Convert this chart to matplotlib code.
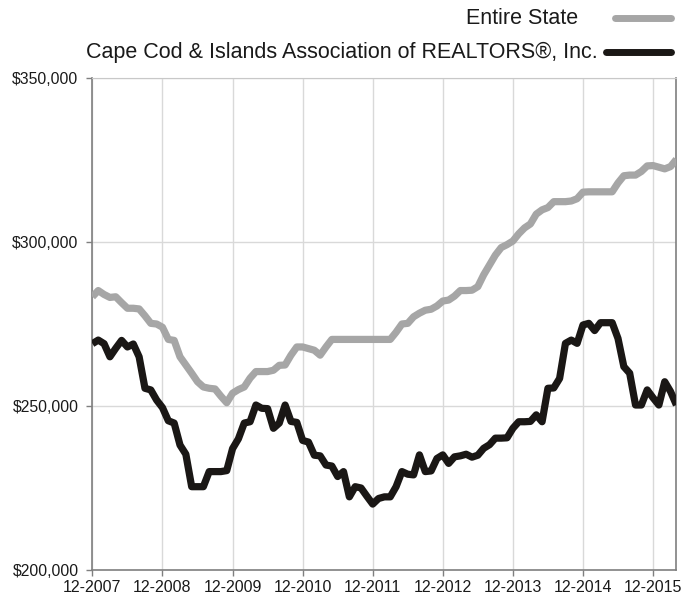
import matplotlib.pyplot as plt

plt.rcParams['font.family'] = ['Liberation Sans', 'DejaVu Sans']

# monthly median price (thousands), 12-2007 .. 4-2016
state_k = [283.3, 285.2, 284, 283.1, 283.3, 281.5, 279.8, 279.8, 279.6, 277.5,
           275.2, 275, 274, 270.3, 270, 265, 262.5, 260, 257.4, 255.8,
           255.4, 255.2, 253, 251, 253.9, 255, 255.8, 258.5, 260.5, 260.5,
           260.5, 260.9, 262.4, 262.5, 265.5, 268, 268, 267.5, 267, 265.5,
           268, 270.3, 270.3, 270.3, 270.3, 270.3, 270.3, 270.3, 270.3, 270.3,
           270.3, 270.3, 272.5, 275, 275.2, 277.2, 278.3, 279.2, 279.5, 280.5,
           282, 282.3, 283.5, 285.2, 285.2, 285.3, 286.4, 290, 293, 296,
           298.3, 299.2, 300.3, 302.5, 304.3, 305.5, 308.5, 309.8, 310.5, 312.3,
           312.3, 312.3, 312.5, 313.2, 315.2, 315.3, 315.3, 315.3, 315.3, 315.3,
           318, 320.2, 320.4, 320.4, 321.5, 323.2, 323.3, 322.8, 322.3, 323,
           325.2]
cape_k = [269, 270.1, 269, 265, 267.6, 270, 268, 268.9, 265, 255.4,
          254.9, 251.8, 249.5, 245.5, 244.8, 238.1, 235.3, 225.4, 225.4, 225.4,
          230, 230, 230, 230.3, 237, 240, 244.8, 245.2, 250.3, 249.3,
          249.2, 243.2, 244.8, 250.3, 245.3, 245, 239.5, 239, 235, 234.8,
          232, 231.7, 228.5, 230, 222.3, 225.4, 225, 222.5, 220.1, 221.8,
          222.3, 222.3, 225.4, 230, 229.2, 229, 235.1, 230, 230.2, 234,
          235.1, 232.5, 234.5, 234.8, 235.3, 234.4, 235, 237.1, 238.2, 240.2,
          240.2, 240.3, 243.2, 245.2, 245.2, 245.3, 247.3, 245.2, 255.4, 255.5,
          258.4, 269.1, 270.1, 269.1, 274.7, 275.2, 273, 275.4, 275.4, 275.4,
          270.6, 262, 260, 250.3, 250.3, 254.9, 252.5, 250.3, 257.4, 254.4,
          250.3]
tick_labels = ['12-2007', '12-2008', '12-2009', '12-2010', '12-2011',
               '12-2012', '12-2013', '12-2014', '12-2015']
y_ticks = [200000, 250000, 300000, 350000]
series_names = ['Entire State', 'Cape Cod & Islands Association of REALTORS®, Inc.']

GRAY = '#a6a6a6'
BLACK = '#1a1715'

months = list(range(len(state_k)))
state = [v * 1000 for v in state_k]
cape = [v * 1000 for v in cape_k]

fig = plt.figure(figsize=(6.96, 5.98), dpi=100)
ax = fig.add_axes([92.4 / 696, 1 - 570 / 598, (676.4 - 92.4) / 696, (570 - 78) / 598])

ax.plot(months, state, color=GRAY, lw=5.2, solid_joinstyle='round', solid_capstyle='butt', zorder=3)
ax.plot(months, cape, color=BLACK, lw=5.2, solid_joinstyle='round', solid_capstyle='butt', zorder=4)

ax.set_xlim(0, len(months) - 1)
ax.set_ylim(200000, 350000)
ax.set_xticks(range(0, 12 * len(tick_labels), 12))
ax.set_xticklabels(tick_labels)
ax.set_yticks(y_ticks)
ax.set_yticklabels(['${:,}'.format(v) for v in y_ticks])
ax.grid(True, color='#d9d9d9', lw=1)
ax.set_axisbelow(True)

for side in ['left', 'bottom', 'right']:
    ax.spines[side].set_color('#7f7f7f')
    ax.spines[side].set_linewidth(1.2)
ax.spines['top'].set_color('#c8c8c8')
ax.tick_params(axis='both', colors='#7f7f7f', length=4, width=1, labelcolor='#1a1a1a')
ax.tick_params(axis='x', labelsize=11.5, pad=3)
ax.tick_params(axis='y', labelsize=11.3, pad=6)

# legend drawn by hand, right aligned above the plot
fig.text(578 / 696, 1 - 18 / 598, series_names[0], ha='right', va='center', fontsize=15.5, color='#1a1a1a')
fig.text(598 / 696, 1 - 52 / 598, series_names[1], ha='right', va='center', fontsize=15.5, color='#1a1a1a')
fig.add_artist(plt.Line2D([615 / 696, 671 / 696], [1 - 18 / 598] * 2, color=GRAY, lw=5,
                          solid_capstyle='round', transform=fig.transFigure))
fig.add_artist(plt.Line2D([606 / 696, 671 / 696], [1 - 52 / 598] * 2, color=BLACK, lw=5,
                          solid_capstyle='round', transform=fig.transFigure))

fig.savefig('out.png', dpi=100)
